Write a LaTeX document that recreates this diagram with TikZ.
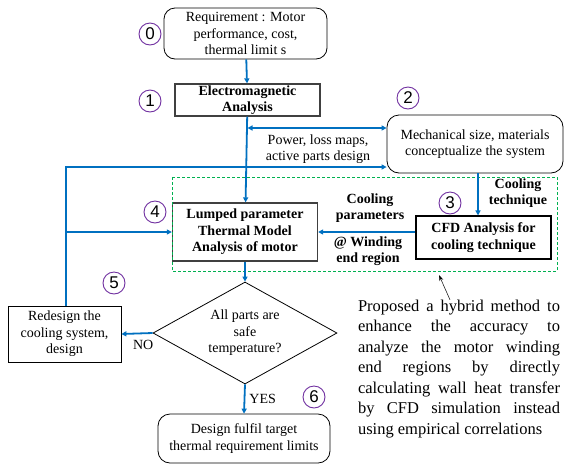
\documentclass[tikz,border=0pt]{standalone}
\usepackage{fontspec}
\setmainfont{Liberation Serif}
\newfontfamily\numfont{Liberation Sans}
\usetikzlibrary{positioning,calc,shapes.geometric,arrows.meta}
\definecolor{flowblue}{RGB}{0,112,192}
\definecolor{numpurple}{RGB}{112,48,160}
\definecolor{hybgreen}{RGB}{0,176,80}
% one spread-out line of the note
\newcommand{\noteline}[1]{\makebox[202pt][s]{\spaceskip=0pt\xspaceskip=0pt\relax #1}}

\begin{document}
\begin{tikzpicture}[x=1pt, y=-1pt,
			font=\fontsize{14}{16.5}\selectfont,
			>={Triangle[length=5pt,width=5pt]},
			softbox/.style={rectangle, rounded corners=11pt, draw=black, line width=0.8pt, align=center, inner sep=0pt},
			plainbox/.style={rectangle, draw=black, line width=0.8pt, align=center, inner sep=0pt},
			boldbox/.style={rectangle, draw=black!75, line width=1.3pt, align=center, inner sep=0pt, font=\fontsize{14}{16.5}\selectfont\bfseries},
			numcirc/.style={circle, draw=numpurple, line width=0.9pt, minimum size=22pt, inner sep=0pt, font=\numfont\fontsize{17}{17}\selectfont},
			flow/.style={draw=flowblue, line width=1.8pt, ->},
			lbl/.style={align=center, inner sep=0pt},
			boldlbl/.style={align=center, inner sep=0pt, font=\fontsize{14}{16.5}\selectfont\bfseries}]
			\useasboundingbox (0,0) rectangle (564,464);
			% boxes of the flow
			\node[softbox, minimum width=163pt, minimum height=51pt] (req) at (245.5,33.5) {Requirement : Motor\\performance, cost,\\thermal limit s};
			\node[boldbox, minimum width=145pt, minimum height=32pt] (em) at (247.5,100) {Electromagnetic\\Analysis};
			\node[softbox, rounded corners=12pt, minimum width=176pt, minimum height=58pt] (mech) at (475,144) {Mechanical size, materials\\conceptualize the system};
			\node[boldbox, draw=black, line width=1.1pt, minimum width=135pt, minimum height=43pt] (cfd) at (483.5,237.5) {CFD Analysis for\\cooling technique};
			\node[boldbox, minimum width=145pt, minimum height=58pt] (lumped) at (245,232) {Lumped parameter\\Thermal Model\\Analysis of motor};
			\node[diamond, draw=black, line width=0.8pt, aspect=1.8, inner sep=1pt, minimum width=184pt, minimum height=102pt, align=center] (safe) at (245,333) {All parts are\\safe\\temperature?};
			\node[plainbox, minimum width=113pt, minimum height=56pt] (redesign) at (64.5,334) {Redesign the\\cooling system,\\design};
			\node[softbox, rounded corners=12pt, minimum width=172pt, minimum height=49pt] (design) at (244,438.5) {Design fulfil target\\thermal requirement limits};
			% hybrid region
			\coordinate (hybNW) at (172,177);
			\coordinate (hybSE) at (557,271);
			\draw[hybgreen, line width=1pt, dash pattern=on 3pt off 2pt] (hybNW) rectangle (hybSE);
			% step numbers
			\node[numcirc] (n0) at (150,34) {0};
			\node[numcirc] (n1) at (150,101) {1};
			\node[numcirc] (n2) at (408,98) {2};
			\node[numcirc] (n3) at (450,203) {3};
			\node[numcirc] (n4) at (155,212) {4};
			\node[numcirc] (n5) at (114,283) {5};
			\node[numcirc] (n6) at (314,397) {6};
			% labels
			\node[lbl] (powlbl) at (318,149) {Power, loss maps,\\active parts design};
			\node[boldlbl] (techlbl) at (518,193) {Cooling\\technique};
			\node[boldlbl] (parlbl) at (370,208) {Cooling\\parameters};
			\node[boldlbl] (windlbl) at (368,251) {@ Winding\\end region};
			\node[align=justify, inner sep=0pt, text width=202pt, font=\fontsize{16.5}{20.5}\selectfont] (note) at (459,369) {%
				\noteline{Proposed a hybrid method to}\\
				\noteline{enhance the accuracy to}\\
				\noteline{analyze the motor winding}\\
				\noteline{end regions by directly}\\
				\noteline{calculating wall heat transfer}\\
				\noteline{by CFD simulation instead}\\
				using empirical correlations};
			% connectors
			\coordinate (powL) at (247.5,128);
			\coordinate (loopT) at (66,167);
			\coordinate (hyb) at (439,275);
			\draw[flow] (req) -- (em);
			\draw[flow] (em) -- (lumped);
			\draw[flow, <->] (powL) -- (mech.west |- powL);
			\draw[flow] (redesign.north -| loopT) -- (loopT) -- (mech.west |- loopT);
			\draw[flow] (loopT |- lumped.west) -- (lumped.west);
			\draw[flow] ([xshift=3pt]mech.south) -- ([xshift=3pt]mech.south |- cfd.north);
			\draw[flow] (cfd.west |- lumped.east) -- (lumped.east);
			\draw[flow] (lumped) -- (safe);
			\draw[flow] (safe.west) -- (redesign.east) node[pos=0.3, below=6pt, inner sep=0pt] (nolbl) {NO};
			\draw[flow] (safe.south) -- (design.north) node[midway, right=4pt, inner sep=0pt] (yeslbl) {YES};
			\draw[-{Stealth[length=6pt,width=4pt]}, line width=0.5pt] ([xshift=-9pt]note.north) -- (hyb);
		\end{tikzpicture}
\end{document}
